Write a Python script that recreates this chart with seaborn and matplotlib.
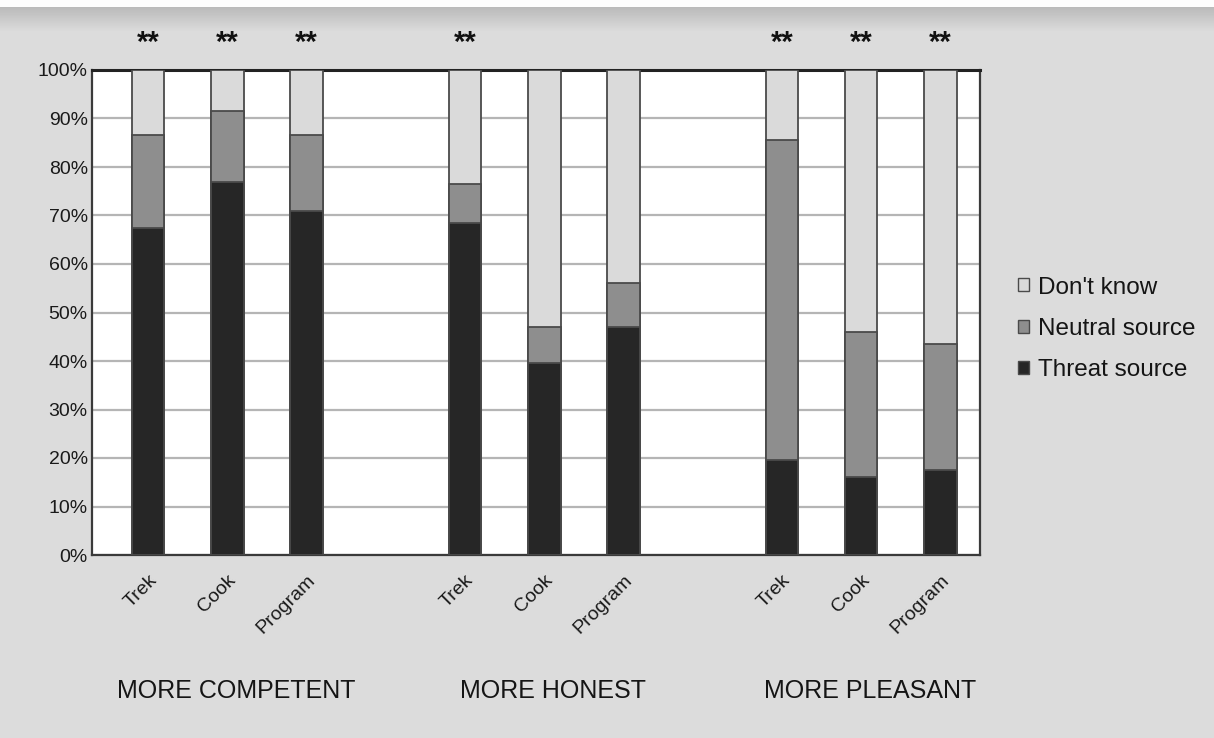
import numpy as np
import pandas as pd
import matplotlib
matplotlib.use("Agg")
import matplotlib.pyplot as plt
from matplotlib.patches import Patch
import seaborn as sns

# ---- data ----
groups = ["MORE COMPETENT", "MORE HONEST", "MORE PLEASANT"]
items = ["Trek", "Cook", "Program"]
threat = [67.5, 77.0, 71.0, 68.5, 39.5, 47.0, 19.5, 16.0, 17.5]
neutral = [19.0, 14.5, 15.5, 8.0, 7.5, 9.0, 66.0, 30.0, 26.0]
dont_know = [13.5, 8.5, 13.5, 23.5, 53.0, 44.0, 14.5, 54.0, 56.5]
signif = ["**", "**", "**", "**", "", "", "**", "**", "**"]
series_names = ["Don't know", "Neutral source", "Threat source"]
yticks = [0, 10, 20, 30, 40, 50, 60, 70, 80, 90, 100]

# ---- style ----
sns.set_style("white")
plt.rcParams["font.family"] = ["Liberation Sans", "DejaVu Sans"]

c_threat = "#262626"
c_neutral = "#8e8e8e"
c_dk = "#dadada"
c_edge = "#4a4a4a"
bg = "#dcdcdc"
txt = "#1a1a1a"

rows = []
for gi, g in enumerate(groups):
    for ii, it in enumerate(items):
        k = gi * 3 + ii
        rows.append({
            "group": g, "item": it, "pos": gi * 4 + ii,
            "threat": threat[k],
            "thr_neu": threat[k] + neutral[k],
            "total": threat[k] + neutral[k] + dont_know[k],
            "sig": signif[k],
        })
df = pd.DataFrame(rows)

fig = plt.figure(figsize=(12.14, 7.38), dpi=100, facecolor=bg)

# top gradient band (scanned-page look)
gax = fig.add_axes([0, 1 - 32 / 738, 1, 32 / 738])
grad = np.concatenate([np.full(7, 0.99), np.linspace(0.73, 0.86, 25)])
gax.imshow(grad[:, None] * np.ones((1, 10)), aspect="auto", cmap="gray",
           vmin=0, vmax=1, extent=[0, 1, 0, 1])
gax.axis("off")

ax = fig.add_axes([92 / 1214, 1 - 555 / 738, (980 - 92) / 1214, (555 - 70) / 738])
ax.set_facecolor("white")

for col, color in [("total", c_dk), ("thr_neu", c_neutral), ("threat", c_threat)]:
    sns.barplot(data=df, x="pos", y=col, native_scale=True, width=0.41,
                color=color, saturation=1, edgecolor=c_edge, linewidth=1.3,
                errorbar=None, ax=ax, zorder=3)

ax.set_xlim(-0.71, 10.49)
ax.set_ylim(0, 100)
ax.set_yticks(yticks)
ax.set_yticklabels([f"{v}%" for v in yticks], fontsize=14, color=txt)
ax.grid(axis="y", color="#b5b5b5", linewidth=1.6, zorder=0)
ax.set_axisbelow(True)
ax.tick_params(axis="y", length=0, pad=3)

ax.set_xticks(df["pos"])
ax.set_xticklabels(df["item"], rotation=45, ha="right", rotation_mode="anchor",
                   fontsize=14, color=txt)
ax.tick_params(axis="x", length=0, pad=12)
ax.set_xticks(np.arange(-0.5, 11, 1.0), minor=True)
ax.tick_params(axis="x", which="minor", length=4, color="#aaaaaa", width=1)
ax.set_xlabel("")
ax.set_ylabel("")

for side in ["left", "bottom", "right", "top"]:
    ax.spines[side].set_visible(True)
    ax.spines[side].set_color("#3a3a3a")
    ax.spines[side].set_linewidth(1.6)
ax.spines["top"].set_linewidth(2.2)
ax.spines["top"].set_color("#222222")

# significance stars
for _, r in df.iterrows():
    if r["sig"]:
        ax.text(r["pos"], 105.5, r["sig"], ha="center", va="center",
                fontsize=21, fontweight="bold", color="#111111", clip_on=False)

# group labels
for gi, g in enumerate(groups):
    ax.text(gi * 4 + 1.11, -28, g, ha="center", va="center", fontsize=18,
            color="#151515", transform=ax.transData, clip_on=False)

handles = [Patch(facecolor=c_dk, edgecolor=c_edge, label=series_names[0]),
           Patch(facecolor=c_neutral, edgecolor=c_edge, label=series_names[1]),
           Patch(facecolor=c_threat, edgecolor=c_edge, label=series_names[2])]
leg = fig.legend(handles=handles, loc="center left",
                 bbox_to_anchor=(1006 / 1214, 1 - 329 / 738), frameon=False,
                 fontsize=17.5, handlelength=0.45, handleheight=0.45,
                 handletextpad=0.38, labelspacing=0.8, borderpad=0)
for t in leg.get_texts():
    t.set_color("#151515")

fig.savefig("out.png", dpi=100, facecolor=bg)
